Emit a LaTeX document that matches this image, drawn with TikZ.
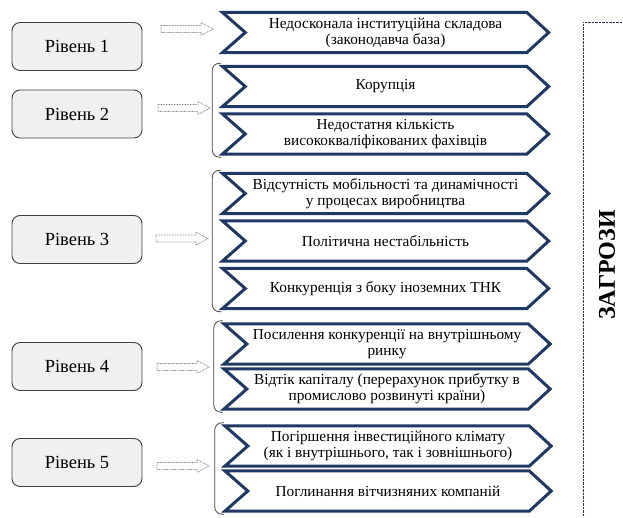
\documentclass[tikz,border=0pt]{standalone}
\usepackage{fontspec}
\setmainfont{Liberation Serif}
\usetikzlibrary{calc}
\definecolor{navy}{RGB}{31,56,100}
\definecolor{boxfill}{RGB}{240,240,240}
\definecolor{boxline}{RGB}{64,64,64}
\begin{document}
\begin{tikzpicture}[x=1pt,y=-1pt,
 level/.style={draw=boxline, fill=boxfill, rounded corners=8pt, line width=0.9pt, minimum width=130pt, minimum height=48pt, inner sep=0pt, font=\fontsize{18.5}{22}\selectfont},
 chev/.style={minimum width=326pt, minimum height=40pt, inner sep=0pt, align=center, font=\fontsize{15.3}{16}\selectfont},
 chevline/.style={draw=navy, line width=3pt, line join=miter},
 brk/.style={draw=black!75, line width=0.8pt, rounded corners=7pt},
 arr/.style={draw=black!50, line width=0.7pt, dash pattern=on 0.8pt off 0.8pt},
 blockarr/.pic={\path[arr] (0,-3.5) -- (40,-3.5) -- (40,-6.5) -- (52,0) -- (40,6.5) -- (40,3.5) -- (0,3.5) -- cycle;}
]
\useasboundingbox (0,0) rectangle (623,518);

% levels
\node[level] (L1) at (77,46.5) {Рівень 1};
\node[level] (L2) at (77,114) {Рівень 2};
\node[level] (L3) at (77,239.5) {Рівень 3};
\node[level] (L4) at (77,366.5) {Рівень 4};
\node[level] (L5) at (77,462.5) {Рівень 5};

% block arrows
\pic at (161,29) {blockarr};
\pic at (158,108) {blockarr};
\pic at (156,238.5) {blockarr};
\pic at (157,367) {blockarr};
\pic at (157,466) {blockarr};

% chevrons
\node[chev] (c1) at (385.5,32.5) {Недосконала інституційна складова\\(законодавча база)};
\node[chev] (c2a) at (385.5,86.5) {Корупція};
\node[chev] (c2b) at (385.5,134) {Недостатня кількість\\висококваліфікованих фахівців};
\node[chev] (c3a) at (385.5,193.5) {Відсутність мобільності та динамічності\\у процесах виробництва};
\node[chev] (c3b) at (385.5,241) {Політична нестабільність};
\node[chev] (c3c) at (385.5,288.5) {Конкуренція з боку іноземних ТНК};
\node[chev] (c4a) at (387,344) {Посилення конкуренції на внутрішньому\\ринку};
\node[chev] (c4b) at (387,389) {Відтік капіталу (перерахунок прибутку в\\промислово розвинуті країни)};
\node[chev] (c5a) at (388,446) {Погіршення інвестиційного клімату\\(як і внутрішнього, так і зовнішнього)};
\node[chev] (c5b) at (388,491) {Поглинання вітчизняних компаній};

\foreach \n in {c1,c2a,c2b,c3a,c3b,c3c,c4a,c4b,c5a,c5b}
  \draw[chevline] (\n.north west) -- ($(\n.west)+(23pt,0pt)$) -- (\n.south west)
    -- ($(\n.south east)+(-22pt,0pt)$) -- (\n.east) -- ($(\n.north east)+(-22pt,0pt)$) -- cycle;

% brackets
\foreach \a/\b in {c2a/c2b,c3a/c3c,c4a/c4b,c5a/c5b}
  \draw[brk] ($(\a.north west)+(-1pt,3pt)$) -- ++(-9pt,0pt) -- ($(\b.south west)+(-10pt,-3pt)$) -- ++(9pt,0pt);

% threats frame
\draw[navy, line width=0.6pt, dash pattern=on 0.7pt off 0.7pt] (640,22) -- (583,22) -- (583,516);
\node[rotate=90, font=\bfseries\fontsize{24}{28}\selectfont] (z) at (607,265) {ЗАГРОЗИ};
\end{tikzpicture}
\end{document}
